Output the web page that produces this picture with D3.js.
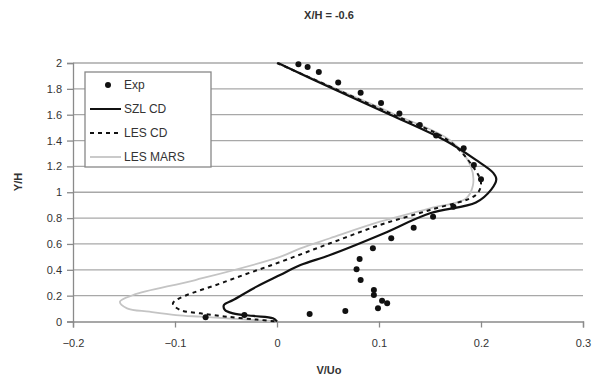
<!DOCTYPE html>
<html><head><meta charset="utf-8">
<script src="https://cdn.jsdelivr.net/npm/d3@7/dist/d3.min.js"></script>
<style>body{margin:0;background:#fff}svg{display:block}text{font-family:"Liberation Sans",Arial,sans-serif}</style>
</head><body><svg id="c" width="597" height="385"></svg>
<script>
const title = "X/H = -0.6";
const xLabel = "V/Uo", yLabel = "Y/H";
const xTicks = [-0.2,-0.1,0,0.1,0.2,0.3];
const yTicks = [0,0.2,0.4,0.6,0.8,1,1.2,1.4,1.6,1.8,2];
const seriesNames = ["Exp","SZL CD","LES CD","LES MARS"];
// Exp points [V/Uo, Y/H]
const expData = [[0.021,1.99],[0.030,1.97],[0.041,1.93],[0.060,1.85],[0.082,1.77],[0.102,1.69],[0.120,1.61],[0.140,1.52],[0.156,1.44],
 [0.183,1.34],[0.193,1.21],[0.200,1.10],[0.173,0.888],[0.153,0.81],[0.134,0.726],[0.112,0.644],[0.094,0.566],[0.081,0.484],
 [0.078,0.404],[0.082,0.321],[0.095,0.244],[0.095,0.205],[0.103,0.161],[0.108,0.141],[0.099,0.102],[0.067,0.081],[0.032,0.058],
 [-0.032,0.05],[-0.070,0.033]];
const szlData = [[0.001,2.0],[0.055,1.8],[0.111,1.6],[0.165,1.4],[0.195,1.25],[0.212,1.15],[0.215,1.1],[0.21,1.02],[0.195,0.92],
 [0.15,0.837],[0.101,0.669],[0.052,0.514],[0.023,0.437],[0.003,0.36],[-0.020,0.27],[-0.043,0.166],[-0.052,0.128],[-0.051,0.089],
 [-0.043,0.063],[-0.023,0.043],[-0.004,0.025],[0,0]];
const lesCdData = [[0.0,2.0],[0.057,1.8],[0.114,1.6],[0.168,1.4],[0.192,1.2],[0.2,1.07],[0.195,0.98],[0.15,0.863],[0.101,0.747],
 [0.052,0.605],[0.003,0.46],[-0.05,0.31],[-0.102,0.141],[-0.095,0.089],[-0.075,0.063],[-0.049,0.037],[-0.02,0.015],[0,0]];
const lesMarsData = [[0.0,2.0],[0.058,1.8],[0.116,1.6],[0.17,1.4],[0.19,1.2],[0.192,1.05],[0.185,0.95],[0.15,0.876],[0.101,0.772],
 [0.052,0.644],[0.023,0.566],[0.003,0.50],[-0.08,0.321],[-0.141,0.205],[-0.154,0.153],[-0.147,0.102],[-0.125,0.076],
 [-0.099,0.05],[-0.075,0.037],[-0.04,0.02],[0,0]];

const svg = d3.select("#c");
const L=73,R=583,T=63,B=321.5;
const x = d3.scaleLinear().domain([-0.2,0.3]).range([L,R]);
const y = d3.scaleLinear().domain([0,2]).range([B,T]);

// grid
svg.append("g").selectAll("line").data(yTicks.filter(d=>d>0)).join("line")
 .attr("x1",L).attr("x2",R).attr("y1",d=>y(d)).attr("y2",d=>y(d))
 .attr("stroke","#a8a8a8").attr("stroke-width",1.3);

// axes
const fmt = d=>d3.format("")(+d.toFixed(1));
const gx = svg.append("g").attr("transform",`translate(0,${B})`)
 .call(d3.axisBottom(x).tickValues(xTicks).tickSize(6).tickPadding(12).tickFormat(fmt));
const gy = svg.append("g").attr("transform",`translate(${L},0)`)
 .call(d3.axisLeft(y).tickValues(yTicks).tickSize(6).tickPadding(5).tickFormat(fmt));
[gx,gy].forEach(g=>{
 g.select(".domain").attr("stroke","#8a8a8a").attr("stroke-width",1.3);
 g.selectAll(".tick line").attr("stroke","#8a8a8a").attr("stroke-width",1.3);
 g.selectAll("text").attr("fill","#333").style("font-size","11px").style("font-family","Liberation Sans, Arial, sans-serif");
});

const line = d3.line().x(d=>x(d[0])).y(d=>y(d[1])).curve(d3.curveCatmullRom);
svg.append("path").datum(lesMarsData).attr("d",line).attr("fill","none").attr("stroke","#c4c4c4").attr("stroke-width",1.8);
svg.append("path").datum(lesCdData).attr("d",line).attr("fill","none").attr("stroke","#111").attr("stroke-width",2).attr("stroke-dasharray","4,4");
svg.append("path").datum(szlData).attr("d",line).attr("fill","none").attr("stroke","#111").attr("stroke-width",2.2);
svg.append("g").selectAll("circle").data(expData).join("circle")
 .attr("cx",d=>x(d[0])).attr("cy",d=>y(d[1])).attr("r",3).attr("fill","#111");

// titles
svg.append("text").attr("x",329).attr("y",19).attr("text-anchor","middle").style("font-size","11px").style("font-weight","bold").attr("fill","#333").text(title);
svg.append("text").attr("x",329).attr("y",374).attr("text-anchor","middle").style("font-size","11px").style("font-weight","bold").attr("fill","#333").text(xLabel);
svg.append("text").attr("transform","translate(22,182) rotate(-90)").attr("text-anchor","middle").style("font-size","11px").style("font-weight","bold").attr("fill","#333").text(yLabel);

// legend
const lg = svg.append("g");
lg.append("rect").attr("x",85).attr("y",72).attr("width",126).attr("height",95).attr("fill","#fff").attr("stroke","#888").attr("stroke-width",1.3);
const ly = [85,109,133,157];
seriesNames.forEach((n,i)=>{
 if(i===0) lg.append("circle").attr("cx",108).attr("cy",ly[i]).attr("r",3).attr("fill","#111");
 else lg.append("line").attr("x1",90).attr("x2",121).attr("y1",ly[i]).attr("y2",ly[i])
   .attr("stroke",i===3?"#c4c4c4":"#111").attr("stroke-width",i===3?1.8:2).attr("stroke-dasharray",i===2?"4,4":null);
 lg.append("text").attr("x",124).attr("y",ly[i]+4).style("font-size","12px").attr("fill","#333").text(n);
});
</script></body></html>
